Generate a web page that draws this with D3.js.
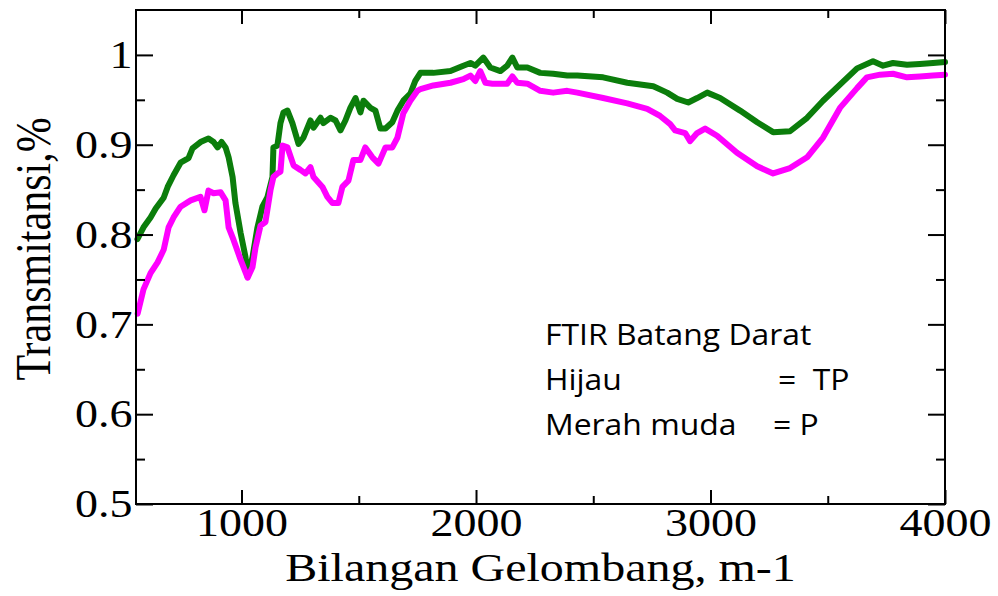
<!DOCTYPE html>
<html>
<head>
<meta charset="utf-8">
<script src="https://cdn.jsdelivr.net/npm/d3@7"></script>
<style>
	body { margin: 0; background: #fff; }
	svg { display: block; }
</style>
</head>
<body>
<svg id="ftirChart" width="998" height="596"></svg>
<script>
// ===== 데이터 (파수, 투과율) =====
var wnGreen = [556, 582, 612, 634, 668, 685, 710, 740, 774, 791, 825, 859, 881, 898, 915, 932, 945, 962, 974, 996,
	1017, 1026, 1047, 1068, 1089, 1111, 1132, 1136, 1153, 1166, 1179, 1196, 1217, 1243, 1264, 1294, 1307, 1337, 1349, 1379,
	1401, 1422, 1443, 1464, 1486, 1507, 1520, 1550, 1571, 1592, 1614, 1643, 1665, 1690, 1720, 1741, 1763, 1818, 1891, 1946,
	1976, 1997, 2031, 2061, 2104, 2133, 2155, 2176, 2219, 2274, 2329, 2389, 2432, 2542, 2645, 2756, 2815, 2858, 2905, 2943,
	2986, 3041, 3126, 3199, 3267, 3339, 3412, 3480, 3552, 3625, 3693, 3736, 3778, 3838, 3893, 3949, 4000];
var tpGreen = [0.795, 0.808, 0.819, 0.829, 0.841, 0.853, 0.866, 0.880, 0.885, 0.896, 0.903, 0.907, 0.903, 0.897, 0.903, 0.897, 0.886, 0.864, 0.835, 0.802,
	0.775, 0.753, 0.775, 0.808, 0.831, 0.842, 0.864, 0.897, 0.899, 0.924, 0.936, 0.938, 0.924, 0.901, 0.908, 0.927, 0.919, 0.930, 0.924, 0.930,
	0.927, 0.916, 0.927, 0.941, 0.952, 0.936, 0.949, 0.941, 0.938, 0.918, 0.918, 0.925, 0.938, 0.949, 0.957, 0.971, 0.980, 0.980, 0.982, 0.988,
	0.991, 0.988, 0.997, 0.986, 0.982, 0.988, 0.997, 0.986, 0.986, 0.980, 0.979, 0.977, 0.977, 0.975, 0.969, 0.965, 0.958, 0.951, 0.947, 0.952,
	0.958, 0.952, 0.938, 0.925, 0.914, 0.915, 0.930, 0.949, 0.967, 0.985, 0.993, 0.988, 0.991, 0.989, 0.990, 0.991, 0.992];

var wnPink = [557, 582, 612, 642, 668, 689, 710, 740, 783, 825, 842, 859, 881, 911, 932, 945, 966, 996, 1026, 1047,
	1060, 1081, 1102, 1124, 1136, 1153, 1166, 1175, 1196, 1222, 1251, 1273, 1294, 1307, 1345, 1366, 1388, 1413, 1430, 1456,
	1477, 1507, 1528, 1558, 1584, 1614, 1643, 1665, 1690, 1720, 1750, 1763, 1818, 1891, 1946, 1976, 1997, 2018, 2040, 2070,
	2104, 2133, 2155, 2176, 2219, 2274, 2329, 2389, 2432, 2542, 2645, 2730, 2785, 2828, 2849, 2892, 2913, 2943, 2977, 3028,
	3113, 3199, 3267, 3339, 3412, 3480, 3552, 3625, 3667, 3723, 3778, 3838, 3893, 3949, 4000];
var tpPink = [0.712, 0.739, 0.757, 0.769, 0.783, 0.808, 0.819, 0.831, 0.838, 0.842, 0.827, 0.849, 0.846, 0.847, 0.838, 0.808, 0.794, 0.772, 0.752, 0.764,
	0.786, 0.810, 0.814, 0.850, 0.864, 0.868, 0.870, 0.899, 0.897, 0.877, 0.872, 0.868, 0.875, 0.864, 0.853, 0.842, 0.835, 0.835, 0.853, 0.860,
	0.883, 0.883, 0.897, 0.886, 0.879, 0.897, 0.897, 0.908, 0.935, 0.949, 0.960, 0.962, 0.966, 0.969, 0.973, 0.977, 0.971, 0.982, 0.969, 0.968,
	0.968, 0.968, 0.976, 0.969, 0.968, 0.960, 0.958, 0.960, 0.958, 0.952, 0.946, 0.940, 0.932, 0.923, 0.916, 0.913, 0.904, 0.913, 0.918, 0.910,
	0.891, 0.876, 0.868, 0.874, 0.886, 0.908, 0.941, 0.963, 0.975, 0.978, 0.979, 0.975, 0.976, 0.977, 0.978];

var xMajor = [1000, 2000, 3000, 4000];
var xMinor = [1500, 2500, 3500];
var yMajor = [0.5, 0.6, 0.7, 0.8, 0.9, 1.0];
var yMinor = [0.55, 0.65, 0.75, 0.85, 0.95];

var noteLines = ["FTIR Batang Darat", "Hijau", "Merah muda"];
var noteRight = ["", "=  TP", "= P"];

// ===== 차트 =====
var margin = { top: 10, right: 53, bottom: 92, left: 136 };
var svg = d3.select("#ftirChart");
var width = +svg.attr("width") - margin.left - margin.right;
var height = +svg.attr("height") - margin.top - margin.bottom;
var stretch = "scale(1.15,1)";

var g = svg.append("g").attr("transform", `translate(${margin.left},${margin.top})`);

var x = d3.scaleLinear().domain([550, 4000]).range([0, width]);
var y = d3.scaleLinear().domain([0.5, 1.05]).range([height, 0]);

var line = d3.line()
	.x(d => x(d[0]))
	.y(d => y(d[1]));

// 곡선 (초록 먼저, 분홍 위에)
g.append("path")
	.datum(wnGreen.map((w, i) => [w, tpGreen[i]]))
	.attr("d", line)
	.attr("fill", "none")
	.attr("stroke", "#0b7d0b")
	.attr("stroke-width", 6)
	.attr("stroke-linejoin", "round")
	.attr("stroke-linecap", "round");

g.append("path")
	.datum(wnPink.map((w, i) => [w, tpPink[i]]))
	.attr("d", line)
	.attr("fill", "none")
	.attr("stroke", "#ff00ff")
	.attr("stroke-width", 6)
	.attr("stroke-linejoin", "round")
	.attr("stroke-linecap", "round");

// 축 스타일
function styleAxis(sel) {
	sel.select(".domain").remove();
	sel.selectAll("line").attr("stroke", "#000").attr("stroke-width", 2);
	sel.selectAll("text")
		.attr("fill", "#000")
		.style("font-family", "'Liberation Serif', 'Times New Roman', serif")
		.style("font-size", "40px");
}

// 아래 축
g.append("g").attr("transform", `translate(0,${height})`)
	.call(d3.axisBottom(x).tickValues(xMajor).tickSize(-14).tickPadding(4).tickFormat(d3.format("d")))
	.call(styleAxis)
	.selectAll("text").attr("transform", stretch);
g.append("g").attr("transform", `translate(0,${height})`)
	.call(d3.axisBottom(x).tickValues(xMinor).tickSize(-8).tickFormat(""))
	.call(styleAxis);

// 위 축
g.append("g")
	.call(d3.axisTop(x).tickValues(xMajor).tickSize(-14).tickFormat(""))
	.call(styleAxis);
g.append("g")
	.call(d3.axisTop(x).tickValues(xMinor).tickSize(-8).tickFormat(""))
	.call(styleAxis);

// 왼쪽 축
g.append("g")
	.call(d3.axisLeft(y).tickValues(yMajor).tickSize(-17).tickPadding(3).tickFormat(d => d === 1 ? "1" : d3.format(".1f")(d)))
	.call(styleAxis)
	.selectAll("text").attr("transform", stretch);
g.append("g")
	.call(d3.axisLeft(y).tickValues(yMinor).tickSize(-9).tickFormat(""))
	.call(styleAxis);

// 오른쪽 축
g.append("g").attr("transform", `translate(${width},0)`)
	.call(d3.axisRight(y).tickValues(yMajor).tickSize(-17).tickFormat(""))
	.call(styleAxis);
g.append("g").attr("transform", `translate(${width},0)`)
	.call(d3.axisRight(y).tickValues(yMinor).tickSize(-9).tickFormat(""))
	.call(styleAxis);

// 테두리
g.append("rect")
	.attr("width", width)
	.attr("height", height)
	.attr("fill", "none")
	.attr("stroke", "#000")
	.attr("stroke-width", 2);

// 축 제목
svg.append("text")
	.attr("transform", `translate(${margin.left + width / 2},581) scale(1.2,1)`)
	.attr("text-anchor", "middle")
	.style("font-family", "'Liberation Serif', 'Times New Roman', serif")
	.style("font-size", "40px")
	.text("Bilangan Gelombang, m-1");

svg.append("text")
	.attr("transform", `translate(50,249) scale(1.2,1) rotate(-90)`)
	.attr("text-anchor", "middle")
	.style("font-family", "'Liberation Serif', 'Times New Roman', serif")
	.style("font-size", "42px")
	.text("Transmitansi,%");

// 주석
var note = svg.append("g").attr("transform", "translate(545,345)");
note.selectAll(".noteL")
	.data(noteLines)
	.enter().append("text")
	.attr("class", "noteL")
	.attr("transform", (d, i) => `translate(0,${i * 45}) scale(1.1,1)`)
	.style("font-family", "'Open Sans', sans-serif")
	.style("font-size", "29px")
	.text(d => d);
note.selectAll(".noteR")
	.data(noteRight)
	.enter().append("text")
	.attr("class", "noteR")
	.attr("transform", (d, i) => `translate(${i === 1 ? 233 : 228},${i * 45}) scale(1.1,1)`)
	.style("font-family", "'Open Sans', sans-serif")
	.style("font-size", "29px")
	.style("white-space", "pre")
	.attr("xml:space", "preserve")
	.text(d => d);
</script>
</body>
</html>
